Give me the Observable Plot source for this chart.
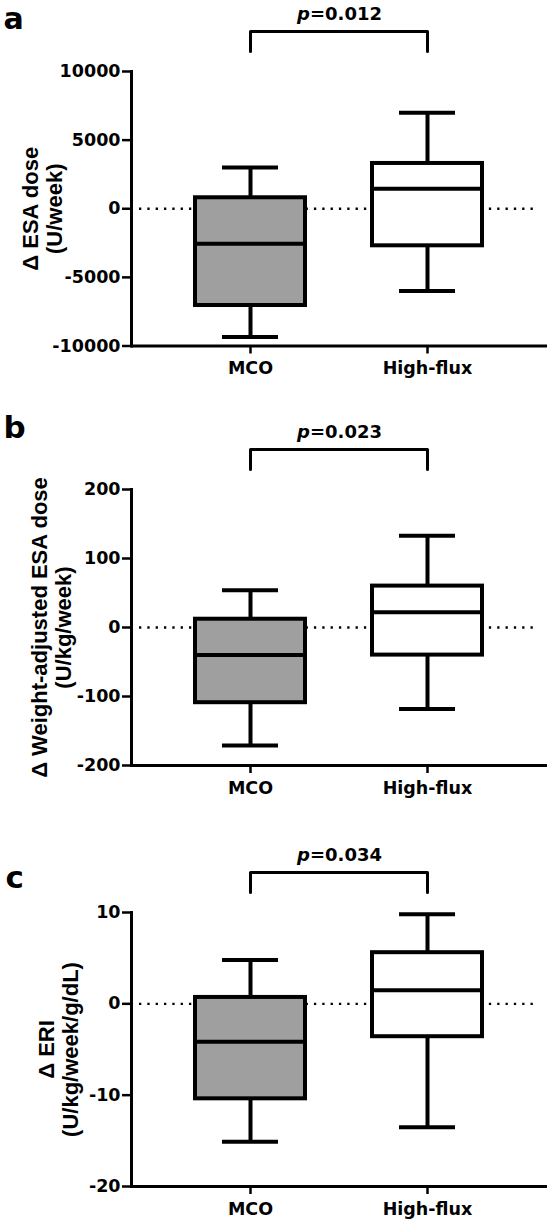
<!DOCTYPE html>
<html>
<head>
<meta charset="utf-8">
<script src="https://cdn.jsdelivr.net/npm/d3@7"></script>
<script src="https://cdn.jsdelivr.net/npm/@observablehq/plot@0.6"></script>
<style>
  html, body { margin: 0; padding: 0; background: #fff; }
  #chart { width: 550px; }
  #chart svg { display: block; }
</style>
</head>
<body>
<div id="chart"></div>
<script>
// ---- shared categories ----
const groups = ["MCO", "High-flux"];
const groupFill = ["#9f9f9f", "#ffffff"];

// ---- panel a: Δ ESA dose (U/week) ----
const esaLow    = [-9350, -6000];
const esaQ1     = [-7050, -2700];
const esaMedian = [-2550, 1450];
const esaQ3     = [800, 3300];
const esaHigh   = [3000, 7000];
const esaTicks  = [-10000, -5000, 0, 5000, 10000];
const esaP      = "0.012";

// ---- panel b: Δ Weight-adjusted ESA dose (U/kg/week) ----
const wEsaLow    = [-171, -118];
const wEsaQ1     = [-109, -40];
const wEsaMedian = [-40, 22];
const wEsaQ3     = [12, 60];
const wEsaHigh   = [54, 133];
const wEsaTicks  = [-200, -100, 0, 100, 200];
const wEsaP      = "0.023";

// ---- panel c: Δ ERI (U/kg/week/g/dL) ----
const eriLow    = [-15.1, -13.5];
const eriQ1     = [-10.4, -3.6];
const eriMedian = [-4.15, 1.5];
const eriQ3     = [0.7, 5.6];
const eriHigh   = [4.8, 9.8];
const eriTicks  = [-20, -10, 0, 10];
const eriP      = "0.034";

function panel(cfg) {
  const {letter, title, low, q1, median, q3, high, ticks, p,
         height, marginTop, marginBottom, titleDx, letterDx, letterDy, letterSize} = cfg;
  const data = groups.map((g, i) => ({
    group: g, fill: groupFill[i],
    low: low[i], q1: q1[i], median: median[i], q3: q3[i], high: high[i]
  }));
  const yMin = d3.min(ticks), yMax = d3.max(ticks);
  const unitsPerPx = (yMax - yMin) / (height - marginTop - marginBottom);
  const bracketBar = yMax + 40 * unitsPerPx;
  const bracketEnd = yMax + 20 * unitsPerPx;
  const bracket = [
    {group: groups[0], y: bracketEnd},
    {group: groups[0], y: bracketBar},
    {group: groups[1], y: bracketBar},
    {group: groups[1], y: bracketEnd}
  ];
  const black = "#000";
  const svg = Plot.plot({
    width: 550,
    height,
    marginLeft: 131,
    marginRight: 3,
    marginTop,
    marginBottom,
    style: {
      fontFamily: "DejaVu Sans",
      fontSize: "17.5px",
      fontWeight: "bold",
      color: "#000",
      background: "#fff",
      overflow: "visible"
    },
    x: {type: "band", domain: groups, paddingInner: 0.376, paddingOuter: 0.357, align: 0.5},
    y: {domain: [yMin, yMax]},
    color: {type: "identity"},
    marks: [
      Plot.ruleY([0], {stroke: black, strokeWidth: 2.3, strokeDasharray: "2.3 6.03", insetLeft: 8, insetRight: 9}),
      Plot.ruleX(data, {x: "group", y1: "low", y2: "high", stroke: black, strokeWidth: 4}),
      Plot.tickY(data, {x: "group", y: "low", stroke: black, strokeWidth: 4, insetLeft: 27, insetRight: 27}),
      Plot.tickY(data, {x: "group", y: "high", stroke: black, strokeWidth: 4, insetLeft: 27, insetRight: 27}),
      Plot.barY(data, {x: "group", y1: "q1", y2: "q3", fill: "fill", stroke: black, strokeWidth: 4}),
      Plot.tickY(data, {x: "group", y: "median", stroke: black, strokeWidth: 4}),
      Plot.axisY({ticks, tickFormat: d => String(d), tickSize: 9, tickPadding: 2, strokeWidth: 2.5, label: null}),
      Plot.axisX({tickSize: 8, tickPadding: 8, strokeWidth: 2.5, label: null}),
      Plot.frame({anchor: "left", stroke: black, strokeWidth: 3}),
      Plot.ruleY([yMin], {stroke: black, strokeWidth: 3}),
      Plot.line(bracket, {x: "group", y: "y", stroke: black, strokeWidth: 3}),
      Plot.text([`p=${p}`], {frameAnchor: "top", dy: -52, lineAnchor: "bottom", fontSize: 18}),
      Plot.text([letter], {frameAnchor: "top-left", dx: letterDx, dy: letterDy, textAnchor: "start", lineAnchor: "bottom", fontSize: letterSize}),
      Plot.text([title], {frameAnchor: "left", rotate: -90, dx: titleDx, fontFamily: "Liberation Sans", fontSize: 22, lineHeight: 1.08, textAnchor: "middle", lineAnchor: "middle"})
    ]
  });
  // italic "p" in the p-value label
  svg.querySelectorAll("text").forEach(t => {
    if (t.childElementCount === 0 && t.textContent.startsWith("p=")) {
      const rest = t.textContent.slice(1);
      t.textContent = "";
      const ts = document.createElementNS("http://www.w3.org/2000/svg", "tspan");
      ts.setAttribute("font-style", "italic");
      ts.textContent = "p";
      t.appendChild(ts);
      t.appendChild(document.createTextNode(rest));
    }
  });
  return svg;
}

const chart = document.getElementById("chart");
chart.appendChild(panel({
  letter: "a", title: "\u0394 ESA dose\n(U/week)",
  low: esaLow, q1: esaQ1, median: esaMedian, q3: esaQ3, high: esaHigh,
  ticks: esaTicks, p: esaP,
  height: 410, marginTop: 71, marginBottom: 64.5,
  titleDx: -89, letterDx: -128, letterDy: -43, letterSize: 30
}));
chart.appendChild(panel({
  letter: "b", title: "\u0394 Weight-adjusted ESA dose\n(U/kg/week)",
  low: wEsaLow, q1: wEsaQ1, median: wEsaMedian, q3: wEsaQ3, high: wEsaHigh,
  ticks: wEsaTicks, p: wEsaP,
  height: 420, marginTop: 79, marginBottom: 65,
  titleDx: -80, letterDx: -128, letterDy: -52, letterSize: 31
}));
chart.appendChild(panel({
  letter: "c", title: "\u0394 ERI\n(U/kg/week/g/dL)",
  low: eriLow, q1: eriQ1, median: eriMedian, q3: eriQ3, high: eriHigh,
  ticks: eriTicks, p: eriP,
  height: 395, marginTop: 82, marginBottom: 39,
  titleDx: -73, letterDx: -126, letterDy: -25, letterSize: 31
}));
</script>
</body>
</html>
